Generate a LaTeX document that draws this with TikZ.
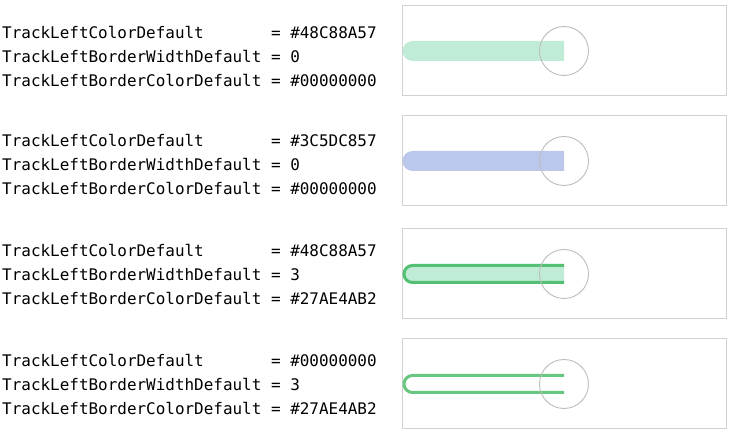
\documentclass[tikz,border=0pt]{standalone}
\usepackage{fontspec}
\setmonofont{DejaVu Sans Mono}
\begin{document}
\begin{tikzpicture}[x=1pt,y=-1pt,
  codetext/.style={anchor=base west,inner sep=0pt,font=\ttfamily\fontsize{15.95}{18}\selectfont},
  panel/.style={draw=boxgray,line width=1pt,minimum width=324pt,minimum height=90pt,inner sep=0pt},
  knob/.style={draw=knobgray,line width=0.9pt,circle,minimum size=49pt,inner sep=0pt},
  trackborder/.style={draw=bordergreen,draw opacity=0.7,line width=3pt,line cap=butt}]
\definecolor{boxgray}{HTML}{D2D2D2}
\definecolor{knobgray}{HTML}{BDBDBD}
\definecolor{fillgreen}{HTML}{48C88A}
\definecolor{fillblue}{HTML}{3C5DC8}
\definecolor{bordergreen}{HTML}{27AE4A}
\useasboundingbox (0,0) rectangle (732,435);
\fill[white] (0,0) rectangle (732,435);

% ---------- texts ----------
\node[codetext] (a1) at (2,38.5) {TrackLeftColorDefault\hphantom{XXXXXX} = \#48C88A57};
\node[codetext] (a2) at (2,62.5) {TrackLeftBorderWidthDefault = 0};
\node[codetext] (a3) at (2,86.5) {TrackLeftBorderColorDefault = \#00000000};

\node[codetext] (b1) at (2,146.7) {TrackLeftColorDefault\hphantom{XXXXXX} = \#3C5DC857};
\node[codetext] (b2) at (2,170.7) {TrackLeftBorderWidthDefault = 0};
\node[codetext] (b3) at (2,194.7) {TrackLeftBorderColorDefault = \#00000000};

\node[codetext] (c1) at (2,257) {TrackLeftColorDefault\hphantom{XXXXXX} = \#48C88A57};
\node[codetext] (c2) at (2,281) {TrackLeftBorderWidthDefault = 3};
\node[codetext] (c3) at (2,305) {TrackLeftBorderColorDefault = \#27AE4AB2};

\node[codetext] (d1) at (2,366.7) {TrackLeftColorDefault\hphantom{XXXXXX} = \#00000000};
\node[codetext] (d2) at (2,390.7) {TrackLeftBorderWidthDefault = 3};
\node[codetext] (d3) at (2,414.7) {TrackLeftBorderColorDefault = \#27AE4AB2};

% ---------- panels ----------
\node[panel] (p1) at (564.5,51) {};
\node[panel] (p2) at (564.5,161) {};
\node[panel] (p3) at (564.5,274) {};
\node[panel] (p4) at (564.5,384) {};

% panel 1: green fill, no border
\fill[fillgreen,fill opacity=0.34] (564,41) [rounded corners=10pt] -- (402.5,41) -- (402.5,61) [sharp corners] -- (564,61) -- cycle;
\node[knob] (k1) at (564,51) {};

% panel 2: blue fill, no border
\fill[fillblue,fill opacity=0.34] (564,151) [rounded corners=10pt] -- (402.5,151) -- (402.5,171) [sharp corners] -- (564,171) -- cycle;
\node[knob] (k2) at (564,161) {};

% panel 3: green fill + green border
\fill[fillgreen,fill opacity=0.34] (564,264) [rounded corners=10pt] -- (402.5,264) -- (402.5,284) [sharp corners] -- (564,284) -- cycle;
\draw[trackborder] (564,265.5) [rounded corners=8.5pt] -- (404,265.5) -- (404,282.5) [sharp corners] -- (564,282.5);
\node[knob] (k3) at (564,274) {};

% panel 4: border only
\draw[trackborder] (564,375.5) [rounded corners=8.5pt] -- (404,375.5) -- (404,392.5) [sharp corners] -- (564,392.5);
\node[knob] (k4) at (564,384) {};
\end{tikzpicture}
\end{document}
